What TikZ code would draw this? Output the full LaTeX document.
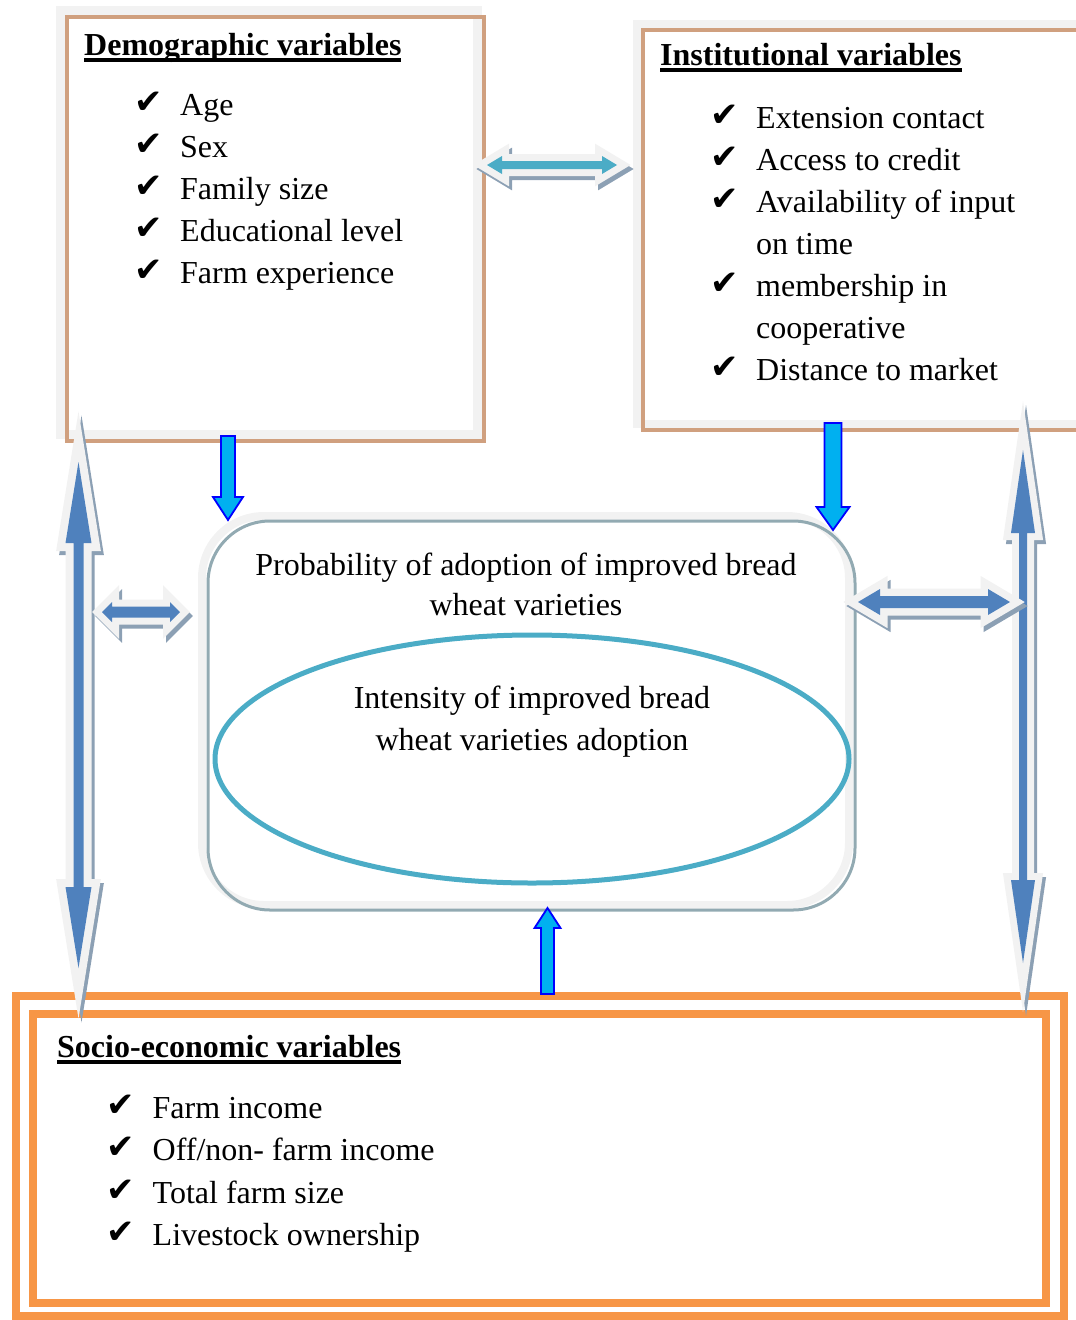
\documentclass[tikz,border=0pt]{standalone}
\usepackage{fontspec}
\setmainfont{Liberation Serif}
\newfontfamily\chkfont{DejaVu Sans}
\usetikzlibrary{calc,positioning,shapes.geometric}

\definecolor{tanline}{RGB}{208,160,127}
\definecolor{framegray}{RGB}{242,242,242}
\definecolor{edgeblue}{RGB}{146,170,178}
\definecolor{ellblue}{RGB}{75,172,198}
\definecolor{orangeline}{RGB}{247,150,70}
\definecolor{arrowblue}{RGB}{79,129,189}
\definecolor{arrowshade}{RGB}{140,160,180}
\definecolor{cyanfill}{RGB}{0,176,240}

\newcommand{\ck}{\makebox[46pt][l]{\raisebox{2pt}{\chkfont\fontsize{34}{34}\selectfont ✔}}}
\newcommand{\gap}{\makebox[46pt]{}}
\newcommand{\hdline}[1]{\setbox0=\hbox{#1}\rlap{\rule[-6.5pt]{\wd0}{3.8pt}}\box0}

\begin{document}
\begin{tikzpicture}[x=1pt, y=-1pt,
	boxnode/.style = {inner sep=0, outer sep=0},
	grayframe/.style = {draw=framegray, line width=#1},
	txt/.style = {inner sep=0, anchor=base west, font=\fontsize{32}{42}\selectfont},
	hd/.style = {txt, font=\fontsize{32}{42}\selectfont\bfseries},
	% block arrows built along the line from start to target
	dblarrow/.style n args={3}{to path={
		let \p1=($(\tikztotarget)-(\tikztostart)$), \n1={veclen(\x1,\y1)}, \n2={atan2(\y1,\x1)} in
		[shift={(\tikztostart)}, rotate=\n2]
		(0pt,0pt) -- (#3pt,#2pt) -- (#3pt,#1pt) -- ({(\n1-#3)*1pt},#1pt) -- ({(\n1-#3)*1pt},#2pt)
		-- ({\n1*1pt},0pt) -- ({(\n1-#3)*1pt},-#2pt) -- ({(\n1-#3)*1pt},-#1pt) -- (#3pt,-#1pt)
		-- (#3pt,-#2pt) -- cycle}},
	sglarrow/.style n args={3}{to path={
		let \p1=($(\tikztotarget)-(\tikztostart)$), \n1={veclen(\x1,\y1)}, \n2={atan2(\y1,\x1)} in
		[shift={(\tikztostart)}, rotate=\n2]
		(0pt,#1pt) -- ({(\n1-#3)*1pt},#1pt) -- ({(\n1-#3)*1pt},#2pt) -- ({\n1*1pt},0pt)
		-- ({(\n1-#3)*1pt},-#2pt) -- ({(\n1-#3)*1pt},-#1pt) -- (0pt,-#1pt) -- cycle}},
	fat/.style 2 args = {preaction={draw=arrowshade, fill=arrowshade, line width=#2, transform canvas={shift={(3pt,-4pt)}}},
		preaction={draw=framegray, line width=#2}, fill=#1},
	cyanarrow/.style = {draw=blue, line width=1.8pt, fill=cyanfill}]
	\useasboundingbox (0,0) rectangle (1076,1320);
	\clip (0,0) rectangle (1076,1320);

	% boxes
	\node[boxnode, minimum width=417.5pt, minimum height=424pt, anchor=north west] (demo) at (66.5,17) {};
	\node[boxnode, minimum width=452pt, minimum height=400pt, anchor=north west] (inst) at (643,30) {};
	\node[boxnode, minimum width=647pt, minimum height=389pt, anchor=north west] (adopt) at (208,521) {};
	\node[boxnode, minimum width=1013.5pt, minimum height=289.5pt, anchor=north west] (socio) at (32.5,1013.5) {};

	\draw[grayframe=9pt] ([shift={(-6.5,-7)}]demo.north west) rectangle ([shift={(-6.5,-7)}]demo.south east);
	\draw[tanline, line width=4pt] (demo.north west) rectangle (demo.south east);
	\draw[grayframe=8pt] ([shift={(-6,-6.5)}]inst.north west) rectangle ([shift={(-6,-6.5)}]inst.south east);
	\draw[tanline, line width=4pt] (inst.north west) rectangle (inst.south east);
	\draw[grayframe=8pt, rounded corners=62pt] ([shift={(-6,-5)}]adopt.north west) rectangle ([shift={(-6,-5)}]adopt.south east);
	\draw[edgeblue, line width=3pt, rounded corners=62pt] (adopt.north west) rectangle (adopt.south east);
	\draw[orangeline, line width=8pt] ([shift={(-16.5,-17.5)}]socio.north west) rectangle ([shift={(18,13)}]socio.south east);
	\draw[orangeline, line width=8pt] (socio.north west) rectangle (socio.south east);

	\node[ellipse, draw=ellblue, line width=5pt, minimum width=634pt, minimum height=248pt, inner sep=0] (intens) at (532,759) {};

	% texts
	\node[hd] (dhead) at ([shift={(17.5,38)}]demo.north west) {\hdline{Demographic variables}};
	\node[txt] (dlist) at ([shift={(67.5,98)}]demo.north west) {\begin{tabular}[t]{@{}l@{}}
		\ck Age\\ \ck Sex\\ \ck Family size\\ \ck Educational level\\ \ck Farm experience
		\end{tabular}};
	\node[hd] (ihead) at ([shift={(17,35)}]inst.north west) {\hdline{Institutional variables}};
	\node[txt] (ilist) at ([shift={(67,98)}]inst.north west) {\begin{tabular}[t]{@{}l@{}}
		\ck Extension contact\\ \ck Access to credit\\ \ck Availability of input\\ \gap on time\\
		\ck membership in\\ \gap cooperative\\ \ck Distance to market
		\end{tabular}};
	\node[hd] (shead) at ([shift={(24.5,43.5)}]socio.north west) {\hdline{Socio-economic variables}};
	\node[txt, font=\fontsize{32}{42.5}\selectfont] (slist) at ([shift={(74,104.5)}]socio.north west) {\begin{tabular}[t]{@{}l@{}}
		\ck Farm income\\ \ck Off/non- farm income\\ \ck Total farm size\\ \ck Livestock ownership
		\end{tabular}};
	\node[txt, anchor=base, font=\fontsize{32}{40}\selectfont] (ptext) at ([shift={(-5.5,54)}]adopt.north) {\begin{tabular}[t]{@{}c@{}}
		Probability of adoption of improved bread\\ wheat varieties
		\end{tabular}};
	\node[txt, anchor=base] (itext) at ([shift={(0,76)}]intens.north) {\begin{tabular}[t]{@{}c@{}}
		Intensity of improved bread\\ wheat varieties adoption
		\end{tabular}};

	% arrow ends
	\coordinate (tl) at ([shift={(3,148)}]demo.north east);
	\coordinate (tr) at ([shift={(-26,135)}]inst.north west);
	\coordinate (lt) at ([shift={(12,21)}]demo.south west);
	\coordinate (lb) at ([shift={(46,-45.5)}]socio.north west);
	\coordinate (rt) at ([shift={(380,20)}]inst.south west);
	\coordinate (rb) at ([shift={(-23,-50.5)}]socio.north east);
	\coordinate (ml) at ([shift={(-106,91)}]adopt.north west);
	\coordinate (mr) at ([shift={(-28,91)}]adopt.north west);
	\coordinate (nl) at ([shift={(3,81)}]adopt.north east);
	\coordinate (nr) at ([shift={(155,81)}]adopt.north east);
	\coordinate (d1) at ([shift={(161.5,-5)}]demo.south west);
	\coordinate (d2) at ([shift={(20,-1)}]adopt.north west);
	\coordinate (e1) at ([shift={(190,-7)}]inst.south west);
	\coordinate (e2) at ([shift={(-22,9)}]adopt.north east);
	\coordinate (u1) at ([shift={(515,-19.5)}]socio.north west);
	\coordinate (u2) at ([shift={(16,-2)}]adopt.south);

	% arrows
	\path[fat={ellblue}{14pt}, dblarrow={4}{9}{15}] (tl) to (tr);
	\path[fat={arrowblue}{16pt}, dblarrow={5}{13}{81}] (lt) to (lb);
	\path[fat={arrowblue}{14pt}, dblarrow={4}{12}{83}] (rt) to (rb);
	\path[fat={arrowblue}{14pt}, dblarrow={5.5}{10}{10}] (ml) to (mr);
	\path[fat={arrowblue}{15pt}, dblarrow={6}{13}{22}] (nl) to (nr);
	\draw[cyanarrow, sglarrow={7}{15}{23}] (d1) to (d2);
	\draw[cyanarrow, sglarrow={8.5}{16.5}{23}] (e1) to (e2);
	\draw[cyanarrow, sglarrow={6.5}{13}{20}] (u1) to (u2);
\end{tikzpicture}
\end{document}
